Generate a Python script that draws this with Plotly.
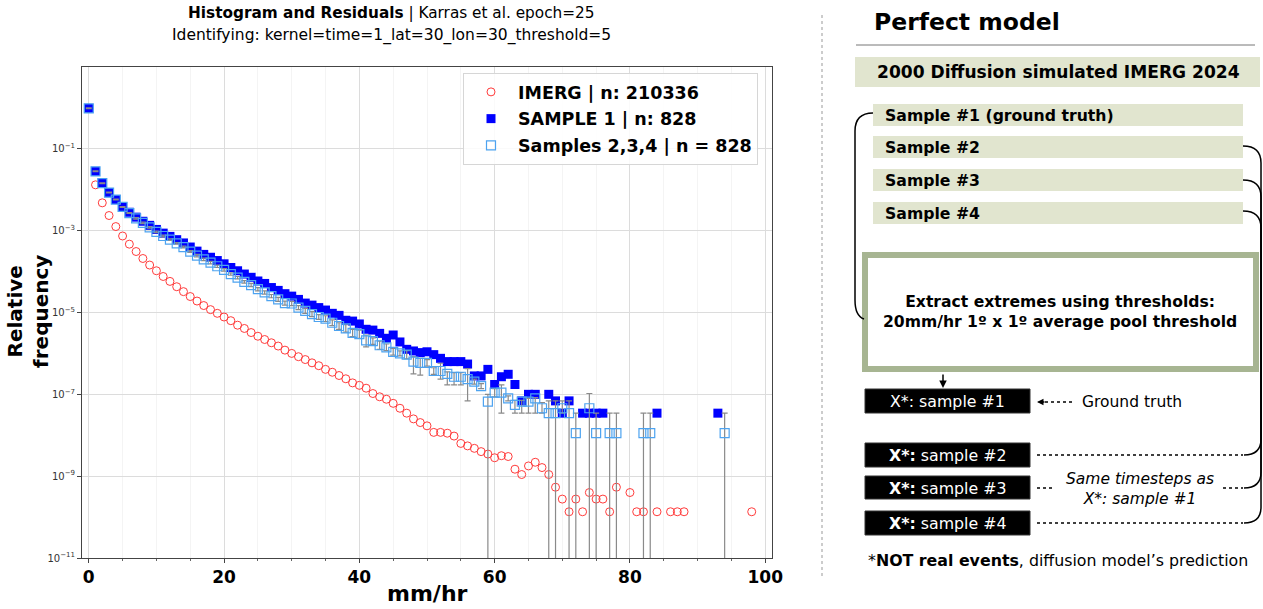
import plotly.graph_objects as go

W, H = 1263, 609
FONT = 'DejaVu Sans'

# ---- data (log10 of relative frequency per 1 mm/hr bin) ----
imerg_x = list(range(0, 79)) + [80, 81, 82, 84, 86, 87, 88, 98]
imerg_log = [
    -0.01, -1.88, -2.32, -2.63, -2.90, -3.13, -3.33, -3.51, -3.68, -3.84,
    -3.98, -4.12, -4.24, -4.37, -4.49, -4.61, -4.72, -4.83, -4.93, -5.02,
    -5.11, -5.20, -5.31, -5.39, -5.49, -5.58, -5.66, -5.74, -5.82, -5.92,
    -6.00, -6.08, -6.15, -6.23, -6.30, -6.39, -6.46, -6.54, -6.62, -6.72,
    -6.78, -6.85, -6.98, -7.06, -7.12, -7.22, -7.34, -7.46, -7.60, -7.69,
    -7.77, -7.93, -7.93, -7.95, -8.02, -8.20, -8.26, -8.32, -8.40, -8.46,
    -8.55, -8.50, -8.52, -8.83, -8.96, -8.75, -8.66, -8.79, -8.96, -9.27,
    -9.56, -9.87, -9.56, -9.87, -9.40, -9.56, -9.56, -9.87, -9.27,
    -9.40, -9.87, -9.87, -9.87, -9.87, -9.87, -9.87, -9.87,
]

sample1_x = list(range(0, 67)) + [68, 69, 70, 71, 73, 74, 75, 76, 84, 93]
sample1_log = [
    -0.01, -1.55, -1.84, -2.07, -2.24, -2.41, -2.55, -2.67, -2.77, -2.87,
    -2.97, -3.06, -3.14, -3.22, -3.30, -3.40, -3.50, -3.58, -3.65, -3.73,
    -3.81, -3.90, -3.98, -4.06, -4.14, -4.23, -4.29, -4.39, -4.46, -4.54,
    -4.60, -4.68, -4.77, -4.82, -4.88, -4.94, -5.02, -5.07, -5.19, -5.21,
    -5.28, -5.41, -5.43, -5.51, -5.63, -5.55, -5.72, -5.90, -5.94, -5.98,
    -5.96, -6.03, -6.12, -6.20, -6.20, -6.20, -6.26, -6.55, -6.55, -6.39,
    -6.76, -6.57, -6.51, -6.76, -7.16, -7.00, -7.00,
    -7.00, -7.16, -7.46, -7.16, -7.46, -7.46, -7.46, -7.46, -7.46, -7.46,
]

samples_x = list(range(0, 73)) + [74, 75, 77, 78, 82, 83, 94]
samples_log = [
    -0.01, -1.55, -1.84, -2.07, -2.24, -2.42, -2.57, -2.70, -2.81, -2.92,
    -3.03, -3.13, -3.22, -3.31, -3.40, -3.51, -3.61, -3.70, -3.78, -3.87,
    -3.96, -4.06, -4.15, -4.25, -4.33, -4.43, -4.51, -4.60, -4.68, -4.77,
    -4.78, -4.88, -4.96, -5.04, -5.11, -5.15, -5.25, -5.33, -5.39, -5.50,
    -5.53, -5.68, -5.70, -5.80, -5.85, -5.96, -6.00, -6.03, -6.20, -6.23,
    -6.23, -6.43, -6.43, -6.50, -6.57, -6.57, -6.63, -6.69, -6.80, -7.18,
    -6.96, -6.96, -7.10, -7.26, -7.18, -7.18, -7.10, -7.34, -7.46, -7.46,
    -7.34, -7.46, -7.95,
    -7.34, -7.95, -7.95, -7.95, -7.95, -7.95, -7.95,
]
# spread of samples 2,3,4 in decades below / above the mean (None = one sample empty)
samples_dn = [
    0.01, 0.01, 0.01, 0.01, 0.01, 0.01, 0.01, 0.02, 0.02, 0.02,
    0.02, 0.02, 0.02, 0.02, 0.02, 0.02, 0.03, 0.03, 0.03, 0.03,
    0.03, 0.03, 0.03, 0.03, 0.04, 0.04, 0.04, 0.04, 0.05, 0.05,
    0.05, 0.05, 0.06, 0.06, 0.06, 0.07, 0.07, 0.08, 0.09, 0.09,
    0.10, 0.16, 0.08, 0.10, 0.08, 0.08, 0.06, 0.10, 0.30, 0.30,
    0.08, 0.08, 0.20, 0.27, 0.20, 0.20, 0.53, 0.06, 0.06, None,
    0.10, 0.50, 0.06, 0.20, 0.28, 0.28, 0.36, 0.12, None, None,
    0.12, None, None,
    None, None, None, None, None, None, None,
]
samples_up = [
    0.01, 0.01, 0.01, 0.01, 0.01, 0.01, 0.01, 0.02, 0.02, 0.02,
    0.02, 0.02, 0.02, 0.02, 0.02, 0.02, 0.03, 0.03, 0.03, 0.03,
    0.03, 0.03, 0.03, 0.03, 0.04, 0.04, 0.04, 0.04, 0.05, 0.05,
    0.05, 0.05, 0.06, 0.06, 0.06, 0.07, 0.07, 0.08, 0.09, 0.09,
    0.10, 0.13, 0.08, 0.10, 0.08, 0.08, 0.06, 0.10, 0.12, 0.11,
    0.08, 0.08, 0.19, 0.05, 0.10, 0.10, 0.26, 0.06, 0.06, 0.18,
    0.10, 0.19, 0.06, 0.11, 0.03, 0.08, 0.02, 0.14, 0.30, 0.30,
    0.18, 0.30, 0.49,
    0.36, 0.49, 0.49, 0.49, 0.49, 0.49, 0.49,
]

legend_names = ['IMERG | n: 210336', 'SAMPLE 1 | n: 828', 'Samples 2,3,4 | n = 828']
y_tick_exp = [-11, -9, -7, -5, -3, -1]
x_ticks = [0, 20, 40, 60, 80, 100]

imerg_y = [10 ** v for v in imerg_log]
sample1_y = [10 ** v for v in sample1_log]
samples_y = [10 ** v for v in samples_log]
err_minus = [y if d is None else y - 10 ** (v - d) for y, v, d in zip(samples_y, samples_log, samples_dn)]
err_plus = [10 ** (v + u) - y for y, v, u in zip(samples_y, samples_log, samples_up)]


def px(x):
    return x / W


def py(y):
    return 1 - y / H


fig = go.Figure()

fig.add_trace(go.Scatter(
    x=imerg_x, y=imerg_y, mode='markers', name=legend_names[0], legendgroup='a',
    marker=dict(symbol='circle-open', size=8, color='#ff3b3b', line=dict(width=1))
))
fig.add_trace(go.Scatter(
    x=sample1_x, y=sample1_y, mode='markers', name=legend_names[1], legendgroup='b',
    marker=dict(symbol='square', size=9, color='#0000ff', line=dict(width=0))
))
fig.add_trace(go.Scatter(
    x=samples_x, y=samples_y, mode='markers', name=legend_names[2], legendgroup='c',
    marker=dict(symbol='square-open', size=9, color='#4da3f0', line=dict(width=1.2)),
    error_y=dict(type='data', array=err_plus, arrayminus=err_minus, symmetric=False,
                 color='#8a8a8a', thickness=1.2, width=3)
))

fig.update_xaxes(
    domain=[px(82), px(772)], range=[-1, 101],
    tickvals=x_ticks, ticktext=[f'<b>{t}</b>' for t in x_ticks],
    tickfont=dict(size=17, color='black', family=FONT),
    showline=True, linecolor='#444', linewidth=1, mirror=True,
    ticks='outside', ticklen=4, tickcolor='#444',
    showgrid=True, gridcolor='#dcdcdc', zeroline=False,
    minor=dict(dtick=5, ticks='outside', ticklen=2, tickcolor='#666',
               showgrid=True, gridcolor='#f4f4f4'),
    automargin=False,
)
fig.update_yaxes(
    type='log', domain=[py(558), py(67)], range=[-11, 1],
    tickvals=[10 ** e for e in y_tick_exp],
    ticktext=[f'10<sup>\u2212{abs(e)}</sup>' for e in y_tick_exp],
    tickfont=dict(size=10, color='#333', family=FONT),
    showline=True, linecolor='#444', linewidth=1, mirror=True,
    ticks='outside', ticklen=4, tickcolor='#444',
    showgrid=True, gridcolor='#dcdcdc', zeroline=False,
    automargin=False,
)

# ---- right-hand diagram (pixel positions converted to paper coords) ----
olive = '#e1e5cf'
sage = '#a7b592'


def shape(**kw):
    kw.setdefault('xref', 'paper')
    kw.setdefault('yref', 'paper')
    return kw


shapes = [
    shape(type='line', x0=px(822), x1=px(822), y0=py(15), y1=py(578),
          line=dict(color='#999', width=1, dash='dot')),
    shape(type='line', x0=px(856), x1=px(1255), y0=py(45), y1=py(45),
          line=dict(color='#777', width=1)),
    shape(type='rect', x0=px(855), x1=px(1260), y0=py(57), y1=py(87),
          fillcolor=olive, line=dict(width=0)),
]
for top, bot in [(104, 126), (136, 158), (169, 191), (202, 224)]:
    shapes.append(shape(type='rect', x0=px(873), x1=px(1243), y0=py(top), y1=py(bot),
                        fillcolor=olive, line=dict(width=0)))
shapes.append(shape(type='rect', x0=px(865), x1=px(1256), y0=py(255), y1=py(369),
                    line=dict(color=sage, width=6), fillcolor='rgba(0,0,0,0)'))


def path(points):
    out = ''
    for cmd, pts in points:
        out += cmd + ' ' + ' '.join(f'{px(a):.5f},{py(b):.5f}' for a, b in pts) + ' '
    return out.strip()


shapes.append(shape(type='path', line=dict(color='black', width=1.5), path=path([
    ('M', [(873, 113)]), ('Q', [(855, 113), (855, 131)]),
    ('L', [(855, 300)]), ('Q', [(855, 316), (864, 319)]),
])))
for sy, ey in [(146, 455), (180, 488), (211, 523)]:
    shapes.append(shape(type='path', line=dict(color='black', width=1.5), path=path([
        ('M', [(1243, sy)]), ('Q', [(1261, sy), (1261, sy + 17)]),
        ('L', [(1261, ey - 16)]), ('Q', [(1261, ey), (1244, ey)]),
    ])))

for top, bot in [(389, 413), (443, 467), (476, 499), (511, 535)]:
    shapes.append(shape(type='rect', x0=px(865), x1=px(1030), y0=py(top), y1=py(bot),
                        fillcolor='black', line=dict(color='#333', width=1)))

for y0, segs in [(455, [(1037, 1243)]), (488, [(1037, 1054), (1223, 1243)]), (523, [(1037, 1243)])]:
    for a, b in segs:
        shapes.append(shape(type='line', x0=px(a), x1=px(b), y0=py(y0), y1=py(y0),
                            line=dict(color='black', width=1.3, dash='dot')))
shapes.append(shape(type='line', x0=px(1045), x1=px(1075), y0=py(402), y1=py(402),
                    line=dict(color='black', width=1.3, dash='dot')))

fig.update_layout(shapes=shapes)


def note(x, y, text, size, color='black', xanchor='center', **kw):
    fig.add_annotation(x=px(x), y=py(y), xref='paper', yref='paper', text=text,
                       xanchor=xanchor, yanchor='middle', showarrow=False,
                       font=dict(family=FONT, size=size, color=color), **kw)


note(391, 13, '<b>Histogram and Residuals</b> | Karras et al. epoch=25', 15.3)
note(391, 35, 'Identifying: kernel=time=1_lat=30_lon=30_threshold=5', 15.5)
note(28, 312, '<b>Relative<br>frequency</b>', 20, textangle=-90)
note(427, 593, '<b>mm/hr</b>', 22)

note(872, 22, '<b>Perfect model</b>', 23.5, xanchor='left')
note(1058, 72, '<b>2000 Diffusion simulated IMERG 2024</b>', 17.1)
for yy, t in [(115, 'Sample #1 (ground truth)'), (147, 'Sample #2'), (180, 'Sample #3'), (213, 'Sample #4')]:
    note(883, yy, f'<b>{t}</b>', 15.7, xanchor='left')
note(1060, 312, '<b>Extract extremes using thresholds:<br>20mm/hr 1º x 1º average pool threshold</b>', 15.6)
note(948, 401, 'X*: sample #1', 15.8, color='white')
for yy, n in [(455, 2), (488, 3), (523, 4)]:
    note(948, yy, f'<b>X*:</b> sample #{n}', 15.8, color='white')
note(1080, 402, 'Ground truth', 15.5, xanchor='left')
note(1140, 489, '<i>Same timesteps as<br>X*: sample #1</i>', 15.5)
note(1058, 560, '*<b>NOT real events</b>, diffusion model\u2019s prediction', 15.8)

# arrow from the extraction box down to the ground-truth sample
fig.add_annotation(x=px(943), y=py(388), xref='paper', yref='paper', ax=0, ay=-15,
                   text='', showarrow=True, arrowhead=2, arrowsize=1, arrowwidth=1.5,
                   arrowcolor='black')
# head of the dotted "Ground truth" pointer
fig.add_annotation(x=px(1037), y=py(402), xref='paper', yref='paper', ax=9, ay=0,
                   text='', showarrow=True, arrowhead=2, arrowsize=1, arrowwidth=1.3,
                   arrowcolor='black')

fig.update_layout(
    width=W, height=H, margin=dict(l=0, r=0, t=0, b=0),
    paper_bgcolor='white', plot_bgcolor='white',
    font=dict(family=FONT, color='black'),
    legend=dict(x=px(463), y=py(73), xanchor='left', yanchor='top',
                bgcolor='rgba(255,255,255,0.85)', bordercolor='#d6d6d6', borderwidth=1,
                font=dict(family=FONT, size=17.5, color='black', weight='bold'),
                traceorder='grouped', tracegroupgap=1, itemwidth=44),
)

# the page body has a default 8px margin; drop it so the figure sits at (0, 0)
fig.write_html('out.html', config={'displayModeBar': False},
               post_script="document.body.style.margin='0';"
                           "document.body.style.overflow='hidden';")
